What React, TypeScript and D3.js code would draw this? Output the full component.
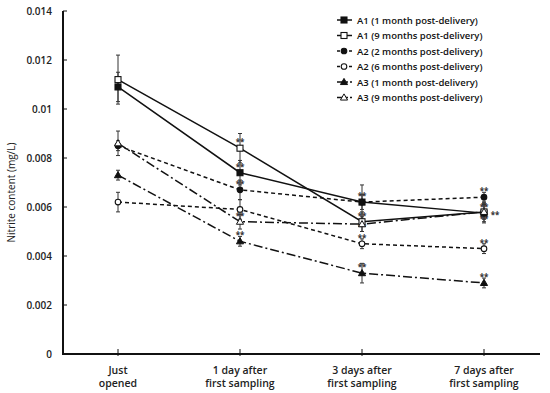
import { useEffect, useRef } from "react";
import * as d3 from "d3";

const categories = ["Just opened", "1 day after first sampling", "3 days after first sampling", "7 days after first sampling"];
const catLines = [["Just", "opened"], ["1 day  after", "first sampling"], ["3 days  after", "first sampling"], ["7 days  after", "first sampling"]];
const seriesNames = [
  "A1 (1 month post-delivery)",
  "A1 (9 months post-delivery)",
  "A2 (2 months post-delivery)",
  "A2 (6 months post-delivery)",
  "A3 (1 month post-delivery)",
  "A3 (9 months post-delivery)",
];
const a1m1 = [0.0109, 0.0074, 0.0062, 0.00575];
const a1m9 = [0.0112, 0.0084, 0.0054, 0.0058];
const a2m2 = [0.0085, 0.0067, 0.0062, 0.0064];
const a2m6 = [0.0062, 0.0059, 0.0045, 0.0043];
const a3m1 = [0.0073, 0.0046, 0.0033, 0.0029];
const a3m9 = [0.0086, 0.0054, 0.0053, 0.0058];
const a1m1Err = [0.0006, 0.0005, 0.0007, 0.0004];
const a1m9Err = [0.001, 0.0006, 0.0004, 0.0004];
const a2m2Err = [0.0002, 0.0004, 0.0003, 0.0002];
const a2m6Err = [0.0004, 0.0004, 0.0002, 0.0002];
const a3m1Err = [0.0002, 0.0002, 0.0004, 0.0002];
const a3m9Err = [0.0005, 0.0003, 0.0003, 0.0003];
const yTicks = [0, 0.002, 0.004, 0.006, 0.008, 0.01, 0.012, 0.014];
// significance marks: [series, time point, where]
const stars: [number, number, string][] = [
  [0, 1, "up"], [1, 1, "up"], [2, 1, "up"], [5, 1, "up"], [4, 1, "up"],
  [0, 2, "up"], [1, 2, "up"], [1, 2, "down"], [3, 2, "up"], [4, 2, "up"],
  [2, 3, "up"], [0, 3, "up"], [0, 3, "down"], [1, 3, "right"], [3, 3, "up"], [4, 3, "up"],
];

const W = 550, H = 393;

export default function App() {
  const ref = useRef<SVGSVGElement>(null);
  useEffect(() => {
    const svg = d3.select(ref.current);
    svg.selectAll("*").remove();
    const font = "'Open Sans', sans-serif";
    const left = 63, right = 540, top = 11, bottom = 354;
    const x = d3.scalePoint().domain(categories).range([118, 484]);
    const y = d3.scaleLinear().domain([0, 0.014]).range([bottom, top]);

    const values = [a1m1, a1m9, a2m2, a2m6, a3m1, a3m9];
    const errs = [a1m1Err, a1m9Err, a2m2Err, a2m6Err, a3m1Err, a3m9Err];
    const dashes = ["none", "none", "4,3", "4,3", "9,3,2,3", "9,3,2,3"];
    const shapes = ["square", "square", "circle", "circle", "triangle", "triangle"];
    const filled = [true, false, true, false, true, false];

    const drawMarker = (g: any, s: number, cx: number, cy: number) => {
      const fill = filled[s] ? "#111" : "#fff";
      if (shapes[s] === "square") {
        g.append("rect").attr("x", cx - 3).attr("y", cy - 3).attr("width", 6).attr("height", 6)
          .attr("fill", fill).attr("stroke", "#111").attr("stroke-width", 1.1);
      } else if (shapes[s] === "circle") {
        g.append("circle").attr("cx", cx).attr("cy", cy).attr("r", 2.8)
          .attr("fill", fill).attr("stroke", "#111").attr("stroke-width", 1.1);
      } else {
        g.append("path").attr("d", d3.symbol(d3.symbolTriangle, 22)())
          .attr("transform", `translate(${cx},${cy + 0.5})`)
          .attr("fill", fill).attr("stroke", "#111").attr("stroke-width", 1);
      }
    };

    // axes
    const yAxis = svg.append("g");
    yAxis.append("line").attr("x1", left).attr("x2", left).attr("y1", top).attr("y2", bottom + 1)
      .attr("stroke", "#111").attr("stroke-width", 2);
    yTicks.forEach((t) => {
      yAxis.append("line").attr("x1", left).attr("x2", left + 4).attr("y1", y(t)).attr("y2", y(t))
        .attr("stroke", "#111").attr("stroke-width", 1);
      yAxis.append("text").attr("x", 52).attr("y", y(t) + 3.5).attr("text-anchor", "end")
        .attr("font-family", font).attr("font-size", 10).attr("font-weight", 600).attr("fill", "#222")
        .text(t === 0 ? "0" : String(+t.toFixed(3)));
    });
    svg.append("text").attr("transform", `translate(15,${(top + bottom) / 2 + 10}) rotate(-90)`)
      .attr("text-anchor", "middle").attr("font-family", font).attr("font-size", 10).attr("fill", "#222")
      .text("Nitrite content  (mg/L)");

    const xAxis = svg.append("g");
    xAxis.append("line").attr("x1", left - 1).attr("x2", right).attr("y1", bottom).attr("y2", bottom)
      .attr("stroke", "#111").attr("stroke-width", 2);
    categories.forEach((c, i) => {
      const cx = x(c)!;
      xAxis.append("line").attr("x1", cx).attr("x2", cx).attr("y1", bottom - 5).attr("y2", bottom + 2)
        .attr("stroke", "#111").attr("stroke-width", 1);
      catLines[i].forEach((ln, j) => {
        xAxis.append("text").attr("x", cx).attr("y", 374 + j * 12.5).attr("text-anchor", "middle")
          .attr("font-family", font).attr("font-size", 10.5).attr("font-weight", 600).attr("fill", "#222")
          .text(ln);
      });
    });

    // lines
    const line = d3.line<number>().x((_, i) => x(categories[i])!).y((d) => y(d));
    values.forEach((v, s) => {
      svg.append("path").attr("d", line(v)).attr("fill", "none").attr("stroke", "#111")
        .attr("stroke-width", 1.5).attr("stroke-dasharray", dashes[s]);
    });

    // error bars
    values.forEach((v, s) => {
      v.forEach((d, i) => {
        const cx = x(categories[i])!;
        const e = errs[s][i];
        const g = svg.append("g").attr("stroke", "#333").attr("stroke-width", 1);
        g.append("line").attr("x1", cx).attr("x2", cx).attr("y1", y(d + e)).attr("y2", y(d - e));
        g.append("line").attr("x1", cx - 2).attr("x2", cx + 2).attr("y1", y(d + e)).attr("y2", y(d + e));
        g.append("line").attr("x1", cx - 2).attr("x2", cx + 2).attr("y1", y(d - e)).attr("y2", y(d - e));
      });
    });

    // stars
    stars.forEach(([s, i, pos]) => {
      const cx = x(categories[i])!;
      const cy = y(values[s][i]);
      const dx = pos === "right" ? 11 : 0;
      const dy = pos === "up" ? -3 : pos === "down" ? 8.5 : 6;
      svg.append("text").attr("x", cx + dx).attr("y", cy + dy).attr("text-anchor", "middle")
        .attr("font-family", font).attr("font-size", 8).attr("font-weight", 700).attr("fill", "#333")
        .text("**");
    });

    // markers
    values.forEach((v, s) => {
      const g = svg.append("g");
      v.forEach((d, i) => drawMarker(g, s, x(categories[i])!, y(d)));
    });

    // legend
    const lg = svg.append("g");
    seriesNames.forEach((n, s) => {
      const ly = 20 + s * 15.5;
      lg.append("line").attr("x1", 337).attr("x2", 352).attr("y1", ly).attr("y2", ly)
        .attr("stroke", "#111").attr("stroke-width", 1.5).attr("stroke-dasharray", s >= 4 ? "7,2,2,2" : s >= 2 ? "3,3" : "none");
      drawMarker(lg, s, 344, ly);
      lg.append("text").attr("x", 357).attr("y", ly + 3.5).attr("font-family", font)
        .attr("font-size", 9.5).attr("font-weight", 600).attr("fill", "#111").text(n);
    });
  }, []);
  return <svg ref={ref} width={W} height={H} style={{ display: "block", position: "absolute", left: 0, top: 0 }} />;
}
